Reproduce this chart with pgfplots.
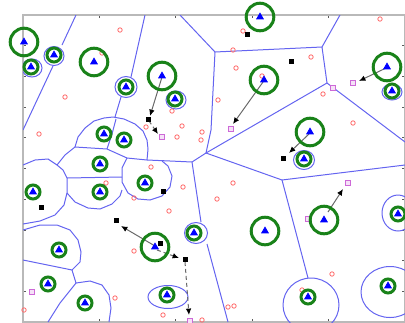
\documentclass[border=0pt]{standalone}
\usepackage{pgfplots}
\pgfplotsset{compat=1.18}
\usetikzlibrary{arrows.meta}
\definecolor{vblue}{RGB}{100,100,240}
\definecolor{vgreen}{RGB}{25,130,25}
\definecolor{vred}{RGB}{255,110,110}
\definecolor{vmag}{RGB}{205,105,215}
\definecolor{vgray}{RGB}{105,105,105}
\pgfdeclareplotmark{myell}{%
  \pgfpathellipse{\pgfpointorigin}{\pgfpoint{\ellrx*0.5pt}{0pt}}{\pgfpoint{0pt}{\ellry*0.5pt}}%
  \pgfusepathqstroke}
\pgfplotsset{base/.style={scale only axis, width=191pt, height=153.5pt,
  at={(107pt,76.75pt)}, anchor=center,
  xmin=23, xmax=405, ymin=15, ymax=322, y dir=reverse},
  bl/.style={vblue, line width=0.5pt, mark=none, solid}}
\begin{document}
\begin{tikzpicture}
\useasboundingbox (0,0) rectangle (202.5pt,161pt);
% ---------- clipped layer: boundaries ----------
\begin{axis}[base, clip marker paths=true,
  axis line style={gray!55, line width=0.8pt},
  xtick={99.4,175.8,252.2,328.6},
  ytick={45.7,76.4,107.1,137.8,168.5,199.2,229.9,260.6,291.3},
  xticklabels={}, yticklabels={},
  tick align=inside, major tick length=1.5pt,
  tick style={gray!70!black, line width=0.4pt}]
\addplot[bl] coordinates {(76,15) (62,45)};
\addplot[bl] coordinates {(53,66) (23,130)};
\addplot[bl] coordinates {(145,15) (131,77)};
\addplot[bl] coordinates {(121,97) (115,117)};
\addplot[bl] coordinates {(180,15) (215,52) (322,47) (340,15)};
\addplot[bl] coordinates {(322,47) (327,83) (405,142)};
\addplot[bl] coordinates {(327,83) (206,153)};
\addplot[bl] coordinates {(215,52) (211,130) (206,153) (192,162)};
\addplot[bl] coordinates {(206,153) (282,180) (405,165)};
\addplot[bl] coordinates {(282,180) (308,278)};
\addplot[bl] coordinates {(192,162) (201,222)};
\addplot[bl] coordinates {(207,244) (228,322)};
% cluster
\addplot[bl] coordinates {(75,147) (78,137) (85,128) (94,121) (104,118) (113,117) (124,119) (135,124) (143,131) (147,140) (148,149) (147,160)};
\addplot[bl] coordinates {(116,119) (112,134) (107,149)};
\addplot[bl] coordinates {(57,165) (65,155) (75,147) (107,149) (127,158) (147,160) (170,161) (192,162)};
\addplot[bl] coordinates {(127,158) (122,168) (122,182) (128,193) (138,199) (150,200) (162,196) (170,187) (172,176) (168,166) (162,161)};
\addplot[bl] coordinates {(67,178) (122,177)};
\addplot[bl] coordinates {(57,165) (63,170) (67,178) (67,193)};
\addplot[bl] coordinates {(67,193) (75,202) (88,208) (100,209) (112,204) (120,196) (122,190)};
\addplot[bl] coordinates {(23,165) (35,160) (48,159) (57,165)};
\addplot[bl] coordinates {(67,193) (64,205) (55,215) (40,221) (23,224)};
\addplot[bl] coordinates {(23,230) (40,225) (57,225) (70,230) (78,240) (81,252) (80,262) (72,270)};
\addplot[bl] coordinates {(23,260) (72,270) (76,283)};
\addplot[bl] coordinates {(76,283) (90,281) (102,285) (109,295) (111,308) (109,322)};
\addplot[bl] coordinates {(76,283) (60,303) (48,322)};
% ellipses
\addplot[only marks, mark=myell, vblue, line width=0.5pt,
  visualization depends on={\thisrow{rx} \as \ellrx},
  visualization depends on={\thisrow{ry} \as \ellry}] table {
x y rx ry
32 68 10 9
54 56 10 9.5
126 87 11 10.5
176 100 10 9
304 160 10.5 9.5
392 92 10 8
196 233 11.5 10.5
168 297 20 11.5
398 213 16 18
390 292 29 25.5
311 305 28 27
};
\end{axis}
% ---------- unclipped layer: points ----------
\begin{axis}[base, hide axis, clip=false]
% red circles
\addplot[only marks, mark=o, mark size=1.1pt, vred, line width=0.4pt] coordinates {
(120,30) (102,53) (65,97) (39,134) (172,111) (146,127) (182,126) (177,137) (202,132) (201,140)
(243,31) (233,50) (236,68) (262,76) (218,100) (311,57) (323,94) (353,123) (380,19)
(151,167) (106,183) (183,187) (134,198) (169,211) (134,251) (115,298) (163,315) (202,320) (24,310)
(233,183) (217,199) (228,307) (234,306) (332,274) (302,290)};
% magenta squares
\addplot[only marks, mark=square*, mark size=1.3pt, draw=vmag, fill=vmag!20, line width=0.4pt] coordinates {
(162,137) (231,129) (333,88) (353,83) (348,183) (308,219) (32,292) (190,321)};
% black dots
\addplot[only marks, mark=square*, mark size=1pt, black] coordinates {
(148,119) (247,34) (291,61) (283,158) (41,207) (163,191) (116,220) (160,243) (185,259)};
% arrows
\addplot[vgray, line width=0.5pt, -{Latex[length=3.2pt,width=2.8pt,color=black]},
  quiver={u=\thisrow{u}, v=\thisrow{v}}] table {
x y u v
162 77 -12 39
263 82 -30 42
386 68 -27 13
309 134 -20 19
328 212 15 -23
155 246 -34 -20
};
\addplot[vgray, line width=0.5pt, dash pattern={on 2pt off 1.5pt}, -{Latex[length=3.2pt,width=2.8pt,color=black]},
  quiver={u=\thisrow{u}, v=\thisrow{v}}] table {
x y u v
149 121 9 13
157 250 22 8
185 262 4 53
};
% green circles
\addplot[only marks, mark=o, mark size=6.9pt, vgreen, line width=1.5pt] coordinates {
(24,42) (94,62) (162,76) (260,17) (264,80) (387,67) (310,132) (155,247) (265,231) (324,220)};
\addplot[only marks, mark=o, mark size=3.5pt, vgreen, line width=1.5pt] coordinates {
(31,67) (54,55) (126,87) (175,99) (392,91) (304,159) (104,134) (124,140) (100,164) (100,192)
(33,192) (145,183) (59,250) (48,284) (85,303) (167,295) (194,233) (398,214) (388,286) (308,297)};
% triangles
\addplot[only marks, mark=triangle*, mark size=1.9pt, blue] coordinates {
(24,42) (94,62) (162,76) (260,17) (264,80) (387,67) (310,132) (155,247) (265,231) (324,220)
(31,67) (54,55) (126,87) (175,99) (392,91) (304,159) (104,134) (124,140) (100,164) (100,192)
(33,192) (145,183) (59,250) (48,284) (85,303) (167,295) (194,233) (398,214) (388,286) (308,297)};
\end{axis}
\end{tikzpicture}
\end{document}
